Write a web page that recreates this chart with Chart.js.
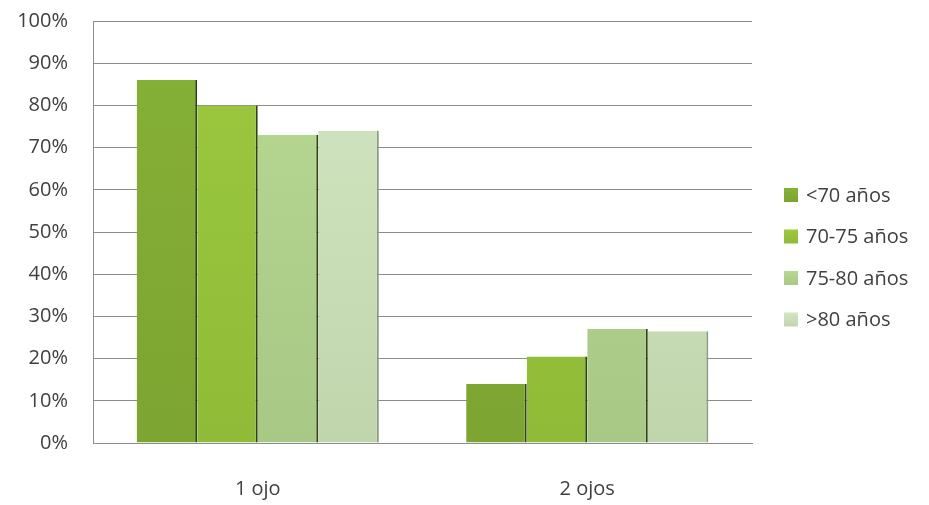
<!DOCTYPE html>
<html>
<head>
<meta charset="utf-8">
<script src="https://cdn.jsdelivr.net/npm/chart.js@4"></script>
<style>
  html, body { margin: 0; padding: 0; background: #fff; }
  #wrap { width: 929px; height: 505px; }
</style>
</head>
<body>
<div id="wrap"><canvas id="chart" width="929" height="505"></canvas></div>
<script>
// Categories and series (percent)
const categories = ['1 ojo', '2 ojos'];
const seriesLabels = ['<70 años', '70-75 años', '75-80 años', '>80 años'];
const under70 = [86, 14];
const from70to75 = [80, 20.5];
const from75to80 = [73, 27];
const over80 = [74, 26.5];
const yTicks = [0, 10, 20, 30, 40, 50, 60, 70, 80, 90, 100];

// top / bottom shades for each series, plus the dark side edge
const shades = [
    ['#86b137', '#7ca531'],
    ['#9cc93f', '#8fbb38'],
    ['#b7da92', '#a8c885'],
    ['#d2e7c2', '#c1d5ad']
];
const edges = ['#2e4214', '#2e4214', '#2e4214', '#8c9a82'];

const FONT = '"Open Sans", "DejaVu Sans", sans-serif';
const TEXT = '#404040';

function barFill(i) {
    return (ctx) => {
        const area = ctx.chart.chartArea;
        if (!area) return shades[i][0];
        const g = ctx.chart.ctx.createLinearGradient(0, area.top, 0, area.bottom);
        g.addColorStop(0, shades[i][0]);
        g.addColorStop(1, shades[i][1]);
        return g;
    };
}

// Legend drawn on the right, next to the plot
const sideLegend = {
    id: 'sideLegend',
    afterDraw(chart) {
        const c = chart.ctx;
        const x = 784, y0 = 195, step = 41.5, box = 14;
        c.save();
        c.font = '20px ' + FONT;
        c.textBaseline = 'middle';
        chart.data.datasets.forEach((ds, i) => {
            const y = y0 + i * step;
            const g = c.createLinearGradient(0, y - box / 2, 0, y + box / 2);
            g.addColorStop(0, shades[i][0]);
            g.addColorStop(1, shades[i][1]);
            c.fillStyle = g;
            c.fillRect(x, y - box / 2, box, box);
            c.fillStyle = TEXT;
            c.fillText(ds.label, x + box + 8, y + 1);
        });
        c.restore();
    }
};

const seriesValues = [under70, from70to75, from75to80, over80];

new Chart(document.getElementById('chart'), {
    type: 'bar',
    data: {
        labels: categories,
        datasets: seriesValues.map((vals, i) => ({
            label: seriesLabels[i],
            data: vals,
            backgroundColor: barFill(i),
            borderColor: edges[i],
            borderWidth: { top: 0, left: 0, bottom: 0, right: 2 },
            borderSkipped: false,
            categoryPercentage: 0.735,
            barPercentage: 1
        }))
    },
    options: {
        responsive: false,
        animation: false,
        devicePixelRatio: 1,
        layout: { padding: { top: 21, right: 177, bottom: 0, left: 0 } },
        plugins: {
            legend: { display: false },
            tooltip: { enabled: false }
        },
        scales: {
            x: {
                grid: { display: false, drawTicks: false },
                border: { display: true, color: '#8c8c8c', width: 1 },
                ticks: {
                    color: TEXT,
                    font: { family: FONT, size: 20 },
                    padding: 34
                },
                afterFit(scale) { scale.height = 62; }
            },
            y: {
                min: 0,
                max: 100,
                afterBuildTicks(scale) {
                    scale.ticks = yTicks.map(v => ({ value: v }));
                },
                grid: { color: '#8c8c8c', lineWidth: 1, drawTicks: false },
                border: { display: true, color: '#8c8c8c', width: 1 },
                ticks: {
                    color: TEXT,
                    font: { family: FONT, size: 20 },
                    padding: 25,
                    callback: v => v + '%'
                },
                afterFit(scale) {
                    scale.width = 93;
                    // tick padding is horizontal here, keep it out of the top margin
                    scale.paddingTop = 0;
                    scale.paddingBottom = 0;
                }
            }
        }
    },
    plugins: [sideLegend]
});
</script>
</body>
</html>
